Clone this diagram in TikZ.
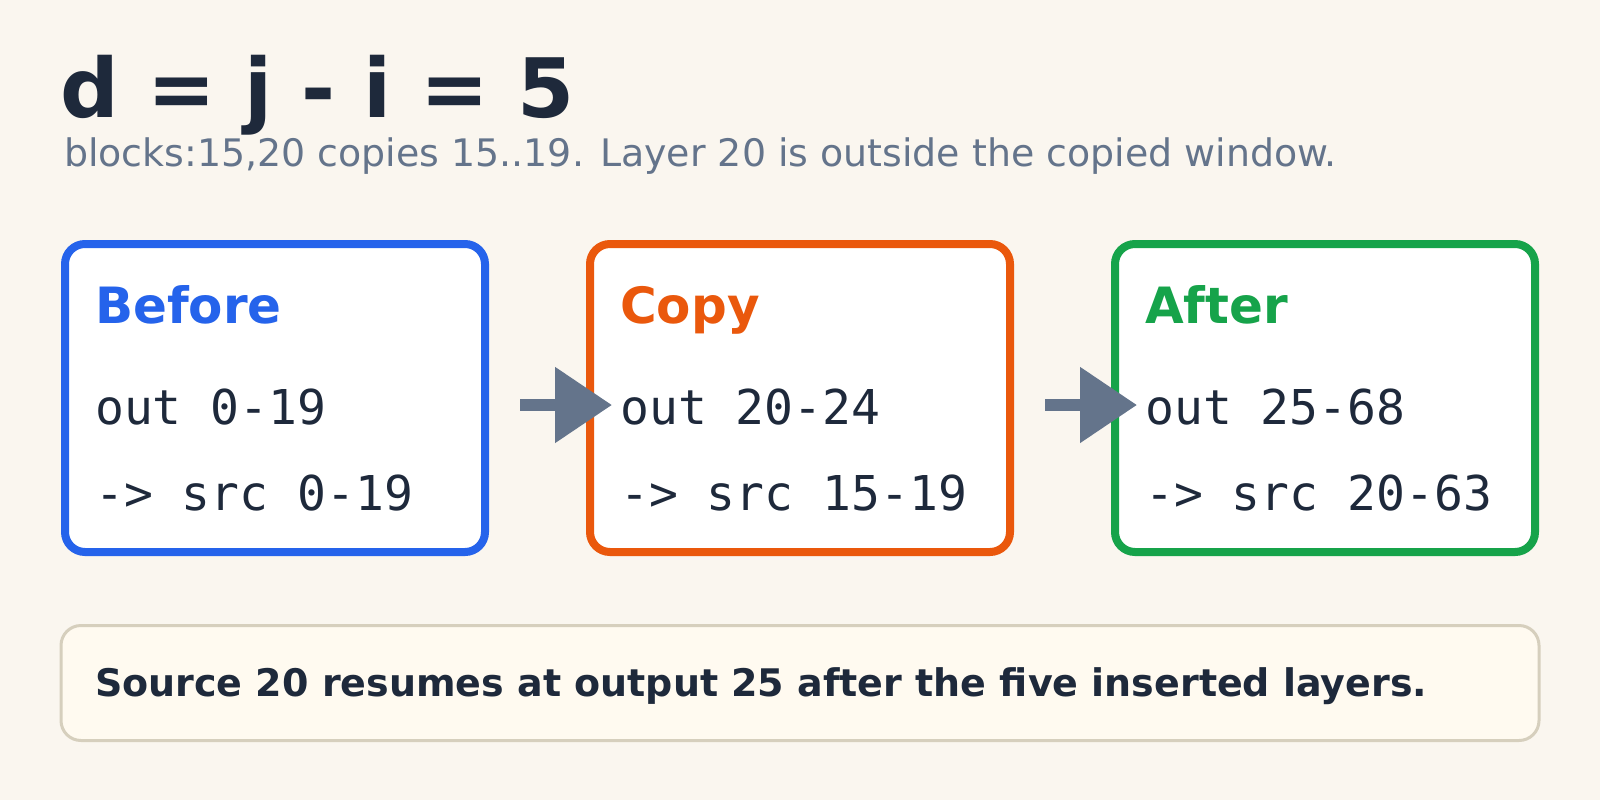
\documentclass[tikz,border=0pt]{standalone}
\usepackage{fontspec}
\setmainfont{DejaVu Sans}
\newfontfamily\monofont{DejaVu Sans Mono}
\usetikzlibrary{arrows.meta}
\definecolor{bgc}{HTML}{FAF6EF}
\definecolor{ink}{HTML}{1E293B}
\definecolor{muted}{HTML}{64748B}
\definecolor{cblue}{HTML}{2563EB}
\definecolor{corange}{HTML}{EA580C}
\definecolor{cgreen}{HTML}{16A34A}
\definecolor{notefill}{HTML}{FFFAF0}
\definecolor{noteline}{HTML}{D6CFBD}
\tikzset{
  panel/.style={draw, line width=8pt, rounded corners=20pt, fill=white,
    minimum width=420pt, minimum height=308pt, inner sep=0pt, outer sep=0pt},
  paneltitle/.style={anchor=base west, inner sep=0pt, font=\fontsize{50}{60}\selectfont\bfseries},
  code/.style={anchor=base west, inner sep=0pt, text=ink, font=\fontsize{48}{58}\selectfont\monofont},
  flow/.style={draw=muted, line width=12pt, -{Triangle[length=57pt,width=73pt]}},
  txt/.style={anchor=base west, inner sep=0pt}
}
\begin{document}
\begin{tikzpicture}[x=1pt,y=-1pt]
\fill[bgc] (0,0) rectangle (1600,800);
\useasboundingbox (0,0) rectangle (1600,800);
\node[txt, text=ink, font=\fontsize{82}{96}\selectfont\bfseries] (title) at (60,117) {d = j - i = 5};
\node[txt, text=muted, font=\fontsize{37.9}{44}\selectfont] (sub) at (64,166) {blocks:15,20 copies 15..19. Layer 20 is outside the copied window.};
\node[panel, draw=cblue] (before) at (275,398) {};
\node[panel, draw=corange] (copy) at (800,398) {};
\node[panel, draw=cgreen] (after) at (1325,398) {};
\node[paneltitle, text=cblue] (t1) at (95,323) {Before};
\node[paneltitle, text=corange] (t2) at (620,323) {Copy};
\node[paneltitle, text=cgreen] (t3) at (1145,323) {After};
\node[code] (a1) at (95,424) {out 0-19};
\node[code] (b1) at (95,510) {-> src 0-19};
\node[code] (a2) at (620,424) {out 20-24};
\node[code] (b2) at (620,510) {-> src 15-19};
\node[code] (a3) at (1145,424) {out 25-68};
\node[code] (b3) at (1145,510) {-> src 20-63};
\coordinate (s1) at (520,405);
\coordinate (s2) at (1045,405);
\draw[flow] (s1) -- ([xshift=22pt]copy.west |- s1);
\draw[flow] (s2) -- ([xshift=22pt]after.west |- s2);
\node[draw=noteline, fill=notefill, line width=3pt, rounded corners=20pt, minimum width=1478pt, minimum height=115pt, inner sep=0pt] (note) at (800,683) {};
\node[txt, text=ink, font=\fontsize{38}{44}\selectfont\bfseries] (notetext) at (95,696) {Source 20 resumes at output 25 after the five inserted layers.};
\end{tikzpicture}
\end{document}
